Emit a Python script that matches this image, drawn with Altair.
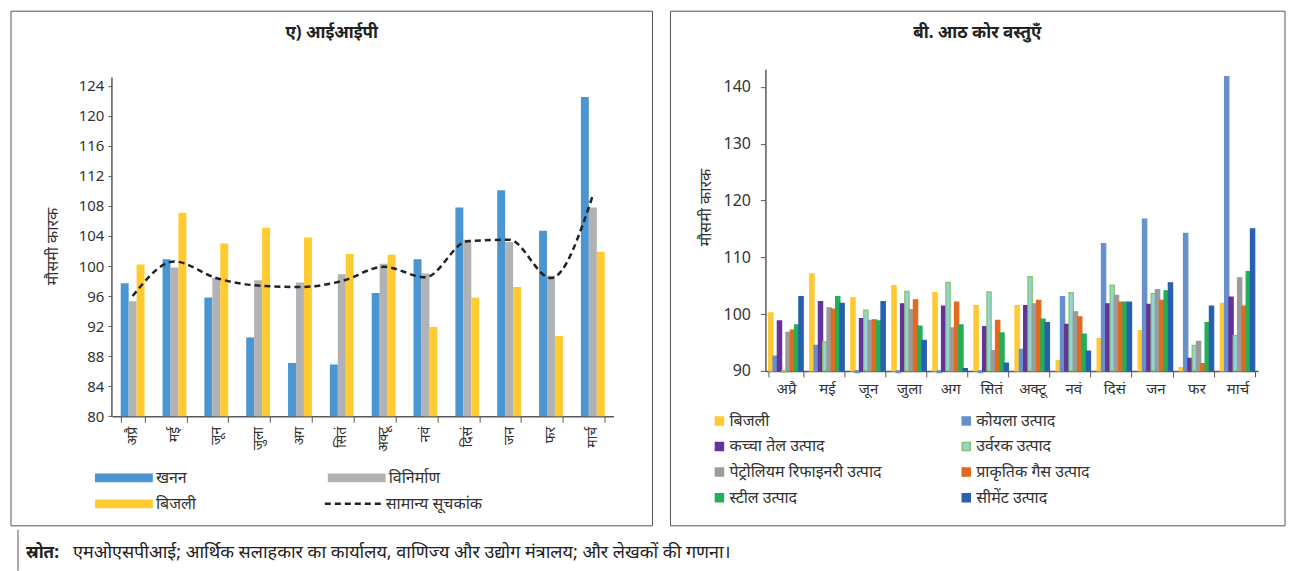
import altair as alt
import pandas as pd

months = ["अप्रै", "मई", "जून", "जुला", "अग", "सितं", "अक्टू", "नवं", "दिसं", "जन", "फर", "मार्च"]

# Panel A: IIP seasonal factors
iip_series = ["खनन", "विनिर्माण", "बिजली"]
iip_colors = ["#4A96D2", "#B1B2B6", "#FFCB31"]
mining = [97.7, 100.9, 95.8, 90.5, 87.1, 86.9, 96.4, 100.9, 107.8, 110.1, 104.7, 122.5]
manufacturing = [95.3, 99.8, 98.4, 98.1, 97.8, 98.9, 100.3, 99.0, 103.5, 103.2, 98.7, 107.8]
electricity = [100.2, 107.1, 103.0, 105.1, 103.8, 101.6, 101.5, 91.9, 95.8, 97.2, 90.7, 101.9]
general_label = "सामान्य सूचकांक"
general = [96.0, 100.6, 98.4, 97.4, 97.2, 98.0, 99.9, 98.5, 103.3, 103.5, 98.4, 109.4]
iip_axis_range = [80, 125.1]

# Panel B: eight core seasonal factors
core_series = ["बिजली", "कोयला उत्पाद", "कच्चा तेल उत्पाद", "उर्वरक उत्पाद",
               "पेट्रोलियम रिफाइनरी उत्पाद", "प्राकृतिक गैस उत्पाद", "स्टील उत्पाद", "सीमेंट उत्पाद"]
core_fill = ["#FFC933", "#6590CC", "#64339A", "#92D3DE", "#9B9B9B", "#E06A1E", "#24AE58", "#2660AE"]
core_stroke = ["#FFC933", "#6590CC", "#64339A", "#86C45E", "#9B9B9B", "#E06A1E", "#24AE58", "#2660AE"]
c_electricity = [100.2, 107.1, 102.9, 105.0, 103.8, 101.5, 101.5, 91.8, 95.7, 97.1, 90.6, 101.9]
c_coal = [92.6, 94.5, 89.7, 89.7, 89.7, 89.7, 93.8, 103.1, 112.4, 116.7, 114.2, 141.8]
c_crude = [98.8, 102.2, 99.2, 101.8, 101.4, 97.8, 101.5, 98.2, 101.8, 101.7, 92.2, 103.0]
c_fert = [89.8, 95.1, 100.7, 104.0, 105.6, 103.9, 106.6, 103.8, 105.1, 103.6, 94.5, 96.2]
c_petro = [96.8, 101.1, 98.9, 100.8, 97.6, 93.6, 101.8, 100.4, 103.3, 104.3, 95.2, 106.4]
c_gas = [97.2, 100.9, 99.0, 102.5, 102.1, 98.9, 102.4, 99.5, 102.1, 102.4, 91.3, 101.4]
c_steel = [98.1, 103.1, 98.8, 97.9, 98.1, 96.7, 99.1, 96.5, 102.1, 104.1, 98.5, 107.5]
c_cement = [103.1, 101.9, 102.2, 95.4, 90.4, 91.4, 98.5, 93.5, 102.1, 105.5, 101.4, 115.0]

title_a = "ए) आईआईपी"
title_b = "बी. आठ कोर वस्तुएँ"
y_title = "मौसमी कारक"
source_bold = "स्रोत:"
source_rest = "एमओएसपीआई; आर्थिक सलाहकार का कार्यालय, वाणिज्य और उद्योग मंत्रालय; और लेखकों की गणना।"

FONT = "Noto Sans, Noto Sans Devanagari, Lohit Devanagari, sans-serif"
AX = "#595959"
TXT = "#333333"

iip_rows = []
for s, vals in zip(iip_series, [mining, manufacturing, electricity]):
    for m, v in zip(months, vals):
        iip_rows.append({"month": m, "series": s, "value": v})
df_iip = pd.DataFrame(iip_rows)
df_gen = pd.DataFrame({"month": months, "value": general, "s": [general_label] * len(months)})
df_axis_a = pd.DataFrame({"lo": [iip_axis_range[0]], "hi": [iip_axis_range[1]]})

core_rows = []
for s, vals in zip(core_series, [c_electricity, c_coal, c_crude, c_fert, c_petro, c_gas, c_steel, c_cement]):
    for m, v in zip(months, vals):
        core_rows.append({"month": m, "series": s, "value": v})
df_core = pd.DataFrame(core_rows)
one = pd.DataFrame({"a": [0]})

# ---------------- Panel A ----------------
WA, HA = 502, 347.4
xa_scale = alt.Scale(paddingInner=0.43, paddingOuter=0.21)
ya_scale = alt.Scale(domain=[80, 126.2], zero=False, nice=False)
xa_axis = alt.Axis(title=None, labelAngle=270, tickBand="extent", tickSize=6, labelPadding=4,
                   labelFontSize=14, labelFont=FONT, labelColor=TXT, domainColor=AX, tickColor=AX,
                   domainWidth=1.5)
ya_axis = alt.Axis(values=list(range(80, 125, 4)), title=y_title, titleFont=FONT, titleFontSize=16,
                   titleFontWeight="normal", titleColor=TXT, titleX=-59, titleY=177, titleAngle=270,
                   titleAlign="center", titleBaseline="middle",
                   labelFontSize=15, labelFont=FONT, labelColor=TXT, tickSize=4, labelPadding=4,
                   domain=False, tickColor=AX, grid=False)

bars_a = alt.Chart(df_iip).mark_bar().encode(
    x=alt.X("month:N", sort=months, scale=xa_scale, axis=xa_axis),
    xOffset=alt.XOffset("series:N", sort=iip_series, scale=alt.Scale(paddingInner=0)),
    y=alt.Y("value:Q", scale=ya_scale, axis=ya_axis, stack=None),
    y2=alt.value(HA),
    fill=alt.Fill("series:N", sort=iip_series,
                  scale=alt.Scale(domain=iip_series, range=iip_colors),
                  legend=alt.Legend(title=None, orient="none", legendX=4, legendY=401, columns=2,
                                    direction="horizontal",
                                    symbolType="M-5,-0.75H5V0.75H-5Z", symbolSize=134,
                                    symbolStrokeWidth=0, labelOffset=24, labelFontSize=16,
                                    labelFont=FONT, labelColor=TXT, columnPadding=131,
                                    rowPadding=10, padding=0)),
)
yaxis_line_a = alt.Chart(df_axis_a).mark_rule(color=AX, strokeWidth=1.5).encode(
    x=alt.value(0),
    y=alt.Y("lo:Q", scale=ya_scale, axis=ya_axis),
    y2="hi:Q",
)
line_a = alt.Chart(df_gen).mark_line(color="#222222", strokeWidth=2.5, interpolate="monotone").encode(
    x=alt.X("month:N", sort=months, scale=xa_scale, axis=xa_axis),
    y=alt.Y("value:Q", scale=ya_scale, axis=ya_axis),
    strokeDash=alt.StrokeDash("s:N", scale=alt.Scale(domain=[general_label], range=[[6, 4]]),
                              legend=alt.Legend(title=None, orient="none", legendX=234, legendY=427,
                                                symbolType="M-5,0H5", symbolSize=134,
                                                symbolStrokeColor="#222222", symbolStrokeWidth=2.5,
                                                labelOffset=24, labelFontSize=16, labelFont=FONT,
                                                labelColor=TXT, padding=0)),
)
frame_a = alt.Chart(one).mark_rect(fillOpacity=0, stroke="#555555", strokeWidth=1).encode(
    x=alt.value(-101), x2=alt.value(541), y=alt.value(-58), y2=alt.value(457))
title_a_mark = alt.Chart(one).mark_text(fontSize=17, fontWeight="bold", font=FONT, color="#222222").encode(
    x=alt.value(220), y=alt.value(-36), text=alt.value(title_a))

panel_a = alt.layer(frame_a, bars_a, yaxis_line_a, line_a, title_a_mark).properties(width=WA, height=HA)

# ---------------- Panel B ----------------
WB, HB = 493, 302
xb_scale = alt.Scale(paddingInner=0.16, paddingOuter=0.08)
yb_scale = alt.Scale(domain=[90, 143.1], zero=False, nice=False)
xb_axis = alt.Axis(title=None, labelAngle=0, tickBand="extent", tickSize=6, labelPadding=5,
                   labelFontSize=15, labelFont=FONT, labelColor=TXT, domainColor=AX, tickColor=AX,
                   domainWidth=1.5)
yb_axis = alt.Axis(values=list(range(90, 141, 10)), title=y_title, titleFont=FONT, titleFontSize=16,
                   titleFontWeight="normal", titleColor=TXT, titleX=-60, titleY=138, titleAngle=270,
                   titleAlign="center", titleBaseline="middle",
                   labelFontSize=16, labelFont=FONT, labelColor=TXT, tickSize=5, labelPadding=10,
                   domainColor=AX, tickColor=AX, domainWidth=1.5, grid=False)
legend_b = alt.Legend(title=None, orient="none", legendX=-54, legendY=344, columns=2,
                      direction="horizontal",
                      symbolType="square", symbolSize=64, symbolStrokeWidth=1.5, labelOffset=2,
                      labelFontSize=16, labelFont=FONT, labelColor=TXT, columnPadding=76,
                      rowPadding=9.6, padding=0)
bars_b = alt.Chart(df_core).mark_bar(strokeWidth=1.2).encode(
    x=alt.X("month:N", sort=months, scale=xb_scale, axis=xb_axis),
    xOffset=alt.XOffset("series:N", sort=core_series, scale=alt.Scale(paddingInner=0)),
    y=alt.Y("value:Q", scale=yb_scale, axis=yb_axis, stack=None),
    y2=alt.value(HB),
    fill=alt.Fill("series:N", sort=core_series, scale=alt.Scale(domain=core_series, range=core_fill),
                  legend=legend_b),
    stroke=alt.Stroke("series:N", sort=core_series, scale=alt.Scale(domain=core_series, range=core_stroke),
                      legend=legend_b),
)
frame_b = alt.Chart(one).mark_rect(fillOpacity=0, stroke="#555555", strokeWidth=1).encode(
    x=alt.value(-95), x2=alt.value(520), y=alt.value(-58), y2=alt.value(457))
title_b_mark = alt.Chart(one).mark_text(fontSize=17, fontWeight="bold", font=FONT, color="#222222").encode(
    x=alt.value(212), y=alt.value(-36), text=alt.value(title_b))

panel_b = alt.layer(frame_b, bars_b, title_b_mark).properties(width=WB, height=HB)

# ---------------- Source ----------------
src_bold = alt.Chart(one).mark_text(align="left", baseline="middle", fontSize=17, fontWeight="bold",
                                    font=FONT, color="#222222").encode(
    x=alt.value(-86), y=alt.value(8), text=alt.value(source_bold))
src_rest = alt.Chart(one).mark_text(align="left", baseline="middle", fontSize=18,
                                    font=FONT, color="#222222").encode(
    x=alt.value(-39), y=alt.value(8), text=alt.value(source_rest))
src_edge = alt.Chart(one).mark_rule(color="#555555", strokeWidth=1).encode(
    x=alt.value(-94), y=alt.value(-15), y2=alt.value(26))
source = alt.layer(src_edge, src_bold, src_rest).properties(width=10, height=16)

top = alt.hconcat(panel_a, panel_b, spacing=16).resolve_scale(
    x="independent", y="independent", xOffset="independent",
    fill="independent", stroke="independent", strokeDash="independent")
chart = alt.vconcat(top, source, spacing=2).properties(
    padding={"left": 2, "top": 2, "right": 0, "bottom": 0}
).configure_view(stroke=None)

chart.save("out.html", embed_options={"renderer": "svg", "actions": False})
